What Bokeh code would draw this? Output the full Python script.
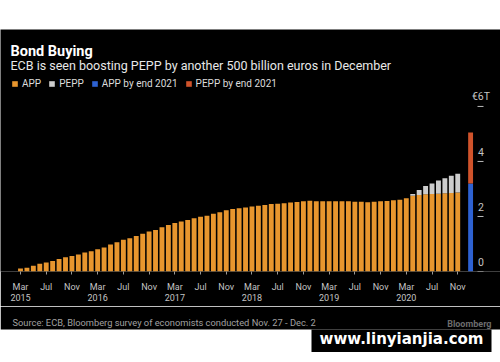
import pandas as pd
from bokeh.plotting import figure
from bokeh.core.properties import value
from bokeh.models import (Range1d, FixedTicker, Label, Spacer, ColumnDataSource,
                          Legend, LegendItem)
from bokeh.layouts import column
from bokeh.embed import file_html
from bokeh.resources import INLINE

# ---------------- data ----------------
title_text = "Bond Buying"
subtitle_text = "ECB is seen boosting PEPP by another 500 billion euros in December"
source_text = "Source: ECB, Bloomberg survey of economists conducted Nov. 27 - Dec. 2"
brand_text = "Bloomberg"
watermark_text = "www.linyianjia.com"
series_names = ["APP", "PEPP", "APP by end 2021", "PEPP by end 2021"]
series_colors = ["#E8962E", "#CDCDCD", "#2E62D2", "#D0532B"]

start_month = "2015-03"
# holdings in trillions of euros, monthly Mar 2015 .. Nov 2020
app = [0.11, 0.14, 0.21, 0.28, 0.33, 0.38, 0.45, 0.52, 0.56, 0.62,
       0.69, 0.74, 0.81, 0.87, 0.98, 1.06, 1.15, 1.21, 1.29, 1.37,
       1.45, 1.51, 1.61, 1.69, 1.76, 1.82, 1.87, 1.94, 1.99, 2.03,
       2.10, 2.15, 2.23, 2.27, 2.30, 2.33, 2.36, 2.39, 2.42, 2.45,
       2.46, 2.48, 2.51, 2.53, 2.55, 2.57, 2.55, 2.55, 2.55, 2.55,
       2.55, 2.55, 2.54, 2.54, 2.52, 2.54, 2.55, 2.56, 2.59, 2.61,
       2.66, 2.75, 2.78, 2.81, 2.82, 2.83, 2.84, 2.85, 2.87]
pepp = [0.0] * 61 + [0.07, 0.18, 0.30, 0.38, 0.48, 0.55, 0.63, 0.68]
app_end_2021 = 3.20
pepp_end_2021 = 1.85

y_ticks = [0, 2, 4, 6]
y_tick_labels = ["0", "2", "4", "€6T"]
tick_month_numbers = [3, 7, 11]

# ---------------- layout helpers (page pixel -> data) ----------------
X0_PX, DX_PX = 20.0, 6.43      # page x of first bar, px per month
Y0_PX, DY_PX = 274.0, 27.85    # page y of zero, px per trillion
FIG_TOP = 29
MAIN_BOTTOM = 306
FOOT_BOTTOM = 352
W = 500
FONT = "Roboto"


def dx(px):
    return (px - X0_PX) / DX_PX


def dy(py):
    return (Y0_PX - py) / DY_PX


months = pd.date_range(start_month, periods=len(app), freq="MS")
xs = list(range(len(app)))
tops_total = [a + b for a, b in zip(app, pepp)]
src = ColumnDataSource(dict(x=xs, app=app, total=tops_total))
x_2021 = len(app) + 1

H = MAIN_BOTTOM - FIG_TOP
p = figure(width=W, height=H, output_backend="svg", toolbar_location=None,
           x_range=Range1d(dx(0), dx(W)),
           y_range=Range1d(0, (Y0_PX - FIG_TOP) / DY_PX),
           y_axis_location=None,
           min_border_left=0, min_border_top=0, min_border_right=0,
           min_border_bottom=int(MAIN_BOTTOM - Y0_PX))
p.background_fill_color = "#000000"
p.border_fill_color = "#000000"
p.outline_line_color = None
p.grid.visible = False

bw = 0.76
r_app = p.vbar(x="x", top="app", bottom=0, width=bw, source=src,
               fill_color=series_colors[0], line_color=None)
r_pepp = p.vbar(x="x", top="total", bottom="app", width=bw, source=src,
                fill_color=series_colors[1], line_color=None)
r_app21 = p.vbar(x=[x_2021], top=[app_end_2021], bottom=[0], width=bw,
                 fill_color=series_colors[2], line_color=None)
r_pepp21 = p.vbar(x=[x_2021], top=[app_end_2021 + pepp_end_2021],
                  bottom=[app_end_2021], width=bw,
                  fill_color=series_colors[3], line_color=None)

# x axis
tick_idx = [i for i, m in enumerate(months) if m.month in tick_month_numbers]
overrides = {}
for i in tick_idx:
    m = months[i]
    lab = m.strftime("%b")
    if m.month == 3:
        lab = lab + "\n" + str(m.year)
    overrides[i] = lab
xa = p.xaxis[0]
xa.ticker = FixedTicker(ticks=tick_idx)
xa.major_label_overrides = overrides
xa.axis_line_color = None
xa.major_tick_line_color = "#9a9a9a"
xa.major_tick_out = 3
xa.major_tick_in = 0
xa.minor_tick_line_color = None
xa.major_label_text_color = "#c4c4c4"
xa.major_label_text_font = FONT
xa.major_label_text_font_size = "9px"
xa.major_label_text_line_height = 1.15
xa.major_label_standoff = 7

# right value scale: ticks and labels above them
p.segment(x0=[dx(477)] * len(y_ticks), x1=[dx(483)] * len(y_ticks),
          y0=y_ticks, y1=y_ticks, line_color="#bbbbbb", line_width=1)
p.text(x=[dx(480.5)] * len(y_ticks), y=[v + 10 / DY_PX for v in y_ticks],
       text=y_tick_labels, text_align="center", text_baseline="middle",
       text_color="#c4c4c4", text_font=value(FONT), text_font_size="10.5px")

# titles
p.add_layout(Label(x=dx(10), y=dy(51), text=title_text, text_color="#ffffff",
                   text_font=FONT, text_font_style="bold", text_font_size="14.5px",
                   text_baseline="middle"))
p.add_layout(Label(x=dx(10), y=dy(65), text=subtitle_text, text_color="#e8e8e8",
                   text_font=FONT, text_font_size="12.5px",
                   text_baseline="middle"))

# legend
legend = Legend(items=[LegendItem(label=n, renderers=[r])
                       for n, r in zip(series_names, [r_app, r_pepp, r_app21, r_pepp21])],
                orientation="horizontal", location=(11, 182),
                background_fill_alpha=0, border_line_color=None,
                padding=0, margin=0, spacing=7, glyph_width=7, glyph_height=7,
                label_standoff=4, label_text_color="#dcdcdc",
                label_text_font=FONT, label_text_font_size="10px",
                label_height=12, label_width=10)
p.add_layout(legend, "center")

# ---------------- footer (source, brand, watermark) ----------------
f = figure(width=W, height=FOOT_BOTTOM - MAIN_BOTTOM, output_backend="svg",
           toolbar_location=None, x_range=Range1d(0, W),
           y_range=Range1d(FOOT_BOTTOM, MAIN_BOTTOM),
           x_axis_location=None, y_axis_location=None,
           min_border=0)
f.background_fill_color = "#ffffff"
f.border_fill_color = "#ffffff"
f.outline_line_color = None
f.grid.visible = False
f.quad(left=[0], right=[W], top=[MAIN_BOTTOM], bottom=[329],
       fill_color="#000000", line_color=None)
f.quad(left=[311], right=[491], top=[329], bottom=[FOOT_BOTTOM],
       fill_color="#000000", line_color=None)
f.text(x=[12], y=[322], text=[source_text], text_baseline="middle",
       text_color="#a0a0a0", text_font=value(FONT), text_font_size="9.3px")
f.text(x=[491], y=[323.5], text=[brand_text], text_baseline="middle",
       text_align="right", text_color="#6c6c6c", text_font=value(FONT),
       text_font_style="bold", text_font_size="9px")
f.text(x=[401], y=[338.5], text=[watermark_text], text_baseline="middle",
       text_align="center", text_color="#ffffff", text_font=value("DejaVu Sans"),
       text_font_style="bold", text_font_size="15px")

layout = column(Spacer(width=W, height=FIG_TOP), p, f)

open("out.html", "w").write(file_html(layout, INLINE))
